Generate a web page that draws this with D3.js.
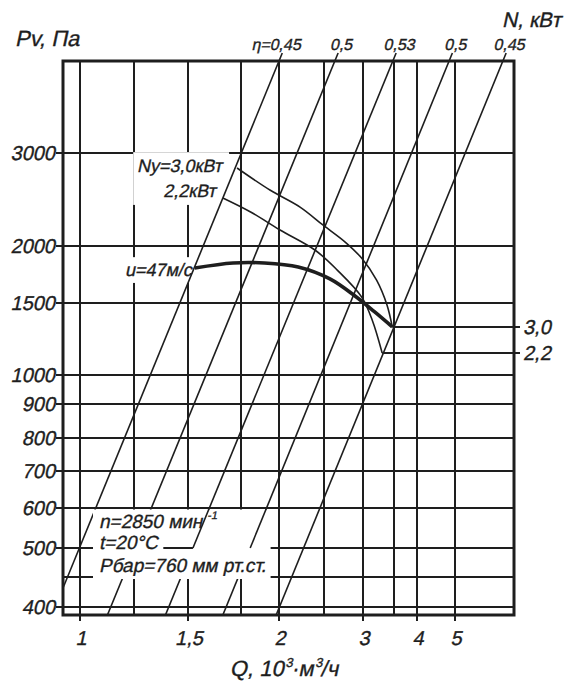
<!DOCTYPE html>
<html>
<head>
<meta charset="utf-8">
<script src="https://cdn.jsdelivr.net/npm/d3@7"></script>
<style>
body { margin: 0; background: #fff; }
text { font-family: "Liberation Sans", Arial, sans-serif; fill: #1e1e1e; stroke: #1e1e1e; stroke-width: 0.35px; }
</style>
</head>
<body>
<div id="chart"></div>
<script>
////// DATA ////////
// Q, 10^3 m3/h  (vertical grid lines and labelled ticks)
var qGrid = [1, 1.25, 1.5, 1.75, 2, 2.5, 3, 3.5, 4, 5];
var qTicks = [1, 1.5, 2, 3, 4, 5];
var qTickLabels = ["1", "1,5", "2", "3", "4", "5"];
// Pv, Pa
var pGrid = [400, 450, 500, 600, 700, 800, 900, 1000, 1500, 2000, 3000];
var pTicks = [400, 500, 600, 700, 800, 900, 1000, 1500, 2000, 3000];

// efficiency rays, read at the frame edges
var etaLabels = ["0,45", "0,5", "0,53", "0,5", "0,45"];
var etaTopQ = [2.0, 2.63, 3.48, 4.83, 6.57];
var etaTopP = [4500, 4500, 4500, 4500, 4500];
var etaBotQ = [0.93, 1.12, 1.39, 1.66, 1.98];
var etaBotP = [431, 388, 388, 388, 388];

// pressure curve u = 47 m/s
var curveQ = [1.53, 1.71, 1.90, 2.20, 2.57, 2.89, 3.18, 3.47];
var curveP = [1790, 1836, 1836, 1799, 1694, 1554, 1426, 1311];
// motor limit Ny = 3,0 kW
var n30Q = [1.73, 1.94, 2.22, 2.49, 2.76, 2.98, 3.21, 3.38, 3.47];
var n30P = [2810, 2550, 2370, 2190, 2035, 1882, 1683, 1483, 1311];
// motor limit Ny = 2,2 kW
var n22Q = [1.66, 1.81, 2.01, 2.39, 2.66, 2.98, 3.14, 3.30];
var n22P = [2466, 2320, 2145, 1960, 1771, 1547, 1363, 1132];

var nLabels = ["3,0", "2,2"];
////////////////////

var W = 567, H = 684;
var ink = "#1e1e1e";

// the printed grid is not a clean log grid, so the scales are piecewise
var x = d3.scaleLog()
	.domain([0.93, 1, 1.25, 1.5, 1.75, 2, 2.5, 3, 3.5, 4, 5, 7])
	.range([63, 80, 134, 188, 241, 279, 324, 363, 394, 417, 455, 514]);

var y = d3.scaleLog()
	.domain([388, 400, 450, 500, 600, 700, 800, 900, 1000, 1500, 2000, 3000, 4500])
	.range([615, 607, 577, 548, 508, 471, 438, 404, 375, 303, 246, 153, 61]);

var xL = x(0.93), xR = x(7), yT = y(4500), yB = y(388);

var svg = d3.select("#chart")
	.append("svg")
	.attr("width", W)
	.attr("height", H);

svg.append("defs").append("clipPath").attr("id", "plotClip")
	.append("rect").attr("x", xL).attr("y", yT).attr("width", xR - xL).attr("height", yB - yT);

var gGrid = svg.append("g");
var gMask = svg.append("g");
var gEta = svg.append("g").attr("clip-path", "url(#plotClip)");
var gCurves = svg.append("g");
var gBox = svg.append("g");
var gText = svg.append("g");

// slanted (not cursive) lettering like the drawing font
function label(xx, yy, str, size, anchor) {
	return gText.append("text")
		.attr("transform", "translate(" + xx + "," + yy + ") skewX(-12)")
		.attr("text-anchor", anchor || "start")
		.style("font-size", size + "px")
		.text(str);
}

// grid
gGrid.selectAll(".vg")
	.data(qGrid)
	.enter()
	.append("line")
	.attr("x1", function (d) { return x(d); })
	.attr("x2", function (d) { return x(d); })
	.attr("y1", yT)
	.attr("y2", yB)
	.attr("stroke", ink)
	.attr("stroke-width", 2);

gGrid.selectAll(".hg")
	.data(pGrid)
	.enter()
	.append("line")
	.attr("x1", xL)
	.attr("x2", xR)
	.attr("y1", function (d) { return y(d); })
	.attr("y2", function (d) { return y(d); })
	.attr("stroke", ink)
	.attr("stroke-width", 2);

// efficiency rays
var etaData = d3.range(etaLabels.length).map(function (i) {
	return {
		x0: x(etaBotQ[i]), y0: y(etaBotP[i]),
		x1: x(etaTopQ[i]), y1: y(etaTopP[i]),
		label: etaLabels[i]
	};
});

gEta.selectAll("line")
	.data(etaData)
	.enter()
	.append("line")
	.attr("x1", function (d) { return d.x0; })
	.attr("y1", function (d) { return d.y0; })
	.attr("x2", function (d) { return d.x1; })
	.attr("y2", function (d) { return d.y1; })
	.attr("stroke", ink)
	.attr("stroke-width", 1.6);

// x position of a ray at a given pixel height
function rayX(d, yy) {
	return d.x0 + (d.x1 - d.x0) * (yy - d.y0) / (d.y1 - d.y0);
}

// stubs above the frame and eta labels
etaData.forEach(function (d, i) {
	var ys = yT - 8;
	var xs = rayX(d, ys);
	svg.append("line")
		.attr("x1", d.x1).attr("y1", d.y1)
		.attr("x2", xs).attr("y2", ys)
		.attr("stroke", ink).attr("stroke-width", 1.6);
	var t = label(xs + 3, yT - 11, d.label, 16, "middle");
	if (i == 0) {
		var w = t.node().getComputedTextLength();
		label(xs + 3 - w / 2, yT - 11, "η=", 16, "end");
	}
});

// curves
var line = d3.line()
	.x(function (d) { return x(d[0]); })
	.y(function (d) { return y(d[1]); })
	.curve(d3.curveCatmullRom.alpha(0.5));

var pCurve = d3.zip(curveQ, curveP);
var n30 = d3.zip(n30Q, n30P);
var n22 = d3.zip(n22Q, n22P);

gCurves.append("path").attr("d", line(n30))
	.attr("fill", "none").attr("stroke", ink).attr("stroke-width", 1.6);
gCurves.append("path").attr("d", line(n22))
	.attr("fill", "none").attr("stroke", ink).attr("stroke-width", 1.6);
gCurves.append("path").attr("d", line(pCurve))
	.attr("fill", "none").attr("stroke", ink).attr("stroke-width", 3.6);

// power levels carried to the right-hand N scale
var nEnds = [n30[n30.length - 1], n22[n22.length - 1]];
nEnds.forEach(function (e, i) {
	gCurves.append("line")
		.attr("x1", x(e[0])).attr("x2", xR + 6)
		.attr("y1", y(e[1])).attr("y2", y(e[1]))
		.attr("stroke", ink).attr("stroke-width", 2);
	label(xR + 9, y(e[1]) + 7, nLabels[i], 20);
});

// frame
svg.append("rect")
	.attr("x", xL).attr("y", yT)
	.attr("width", xR - xL).attr("height", yB - yT)
	.attr("fill", "none").attr("stroke", ink).attr("stroke-width", 3);

// y axis
pTicks.forEach(function (d) {
	svg.append("line")
		.attr("x1", xL - 7).attr("x2", xL)
		.attr("y1", y(d)).attr("y2", y(d))
		.attr("stroke", ink).attr("stroke-width", 2);
	label(xL - 8, y(d) + 7, d, 20, "end");
});

// x axis
qTicks.forEach(function (d, i) {
	svg.append("line")
		.attr("x1", x(d)).attr("x2", x(d))
		.attr("y1", yB).attr("y2", yB + 6)
		.attr("stroke", ink).attr("stroke-width", 2);
	label(x(d) + 1, yB + 30, qTickLabels[i], 20, "middle");
});

// axis titles
label(15, 46, "Pv, Па", 22);
label(561, 27, "N, кВт", 21, "end");

var qt = label(284, 676, "", 22, "middle");
qt.append("tspan").text("Q, 10");
qt.append("tspan").attr("dy", -9).style("font-size", "13px").text("3");
qt.append("tspan").attr("dy", 9).text("·м");
qt.append("tspan").attr("dy", -9).style("font-size", "13px").text("3");
qt.append("tspan").attr("dy", 9).text("/ч");

// curve labels, anchored to the curve starts, with a white mask under them
function maskUnder(nodes, padX, padY) {
	var bb = nodes.map(function (n) { return n.getBoundingClientRect(); });
	var x0 = d3.min(bb, function (b) { return b.left; }) - padX;
	var y0 = d3.min(bb, function (b) { return b.top; }) - padY;
	var x1 = d3.max(bb, function (b) { return b.right; }) + padX;
	var y1 = d3.max(bb, function (b) { return b.bottom; }) + padY;
	gMask.append("rect").attr("x", x0).attr("y", y0)
		.attr("width", x1 - x0).attr("height", y1 - y0).attr("fill", "#fff");
}

var s30 = n30[0], s22 = n22[0], sP = pCurve[0];
var t1 = label(x(s30[0]) - 15, y(s30[1]) + 4, "Ny=3,0кВт", 18, "end");
var t2 = label(x(s22[0]) - 7, y(s22[1]) - 1, "2,2кВт", 18, "end");
maskUnder([t1.node(), t2.node()], 3, 4);

var t3 = label(x(sP[0]) - 3, y(sP[1]) + 8, "u=47м/с", 18, "end");
maskUnder([t3.node()], 2, 3);

// operating conditions box
var b1 = label(99, 528, "", 19);
b1.append("tspan").text("n=2850 мин");
b1.append("tspan").attr("dy", -9).style("font-size", "11px").text(" -1");
label(99, 549, "t=20°C", 19);
var b3 = label(99, 572, "Рбар=760 мм рт.ст.", 19);

var bb3 = b3.node().getBoundingClientRect();
var by0 = y(600) + 1.5, by1 = y(450) + 2;
gBox.append("rect")
	.attr("x", 93).attr("y", by0)
	.attr("width", bb3.right + 1 - 93).attr("height", by1 - by0)
	.attr("fill", "#fff");

// rays 3 and 4 stay visible inside the box down to the 500 line
[etaData[2], etaData[3]].forEach(function (d) {
	gBox.append("line")
		.attr("x1", rayX(d, y(600))).attr("y1", y(600))
		.attr("x2", rayX(d, y(500))).attr("y2", y(500))
		.attr("stroke", ink).attr("stroke-width", 1.6);
});
gBox.append("line")
	.attr("x1", x(1.38)).attr("x2", rayX(etaData[2], y(500)))
	.attr("y1", y(500)).attr("y2", y(500))
	.attr("stroke", ink).attr("stroke-width", 2);
</script>
</body>
</html>
